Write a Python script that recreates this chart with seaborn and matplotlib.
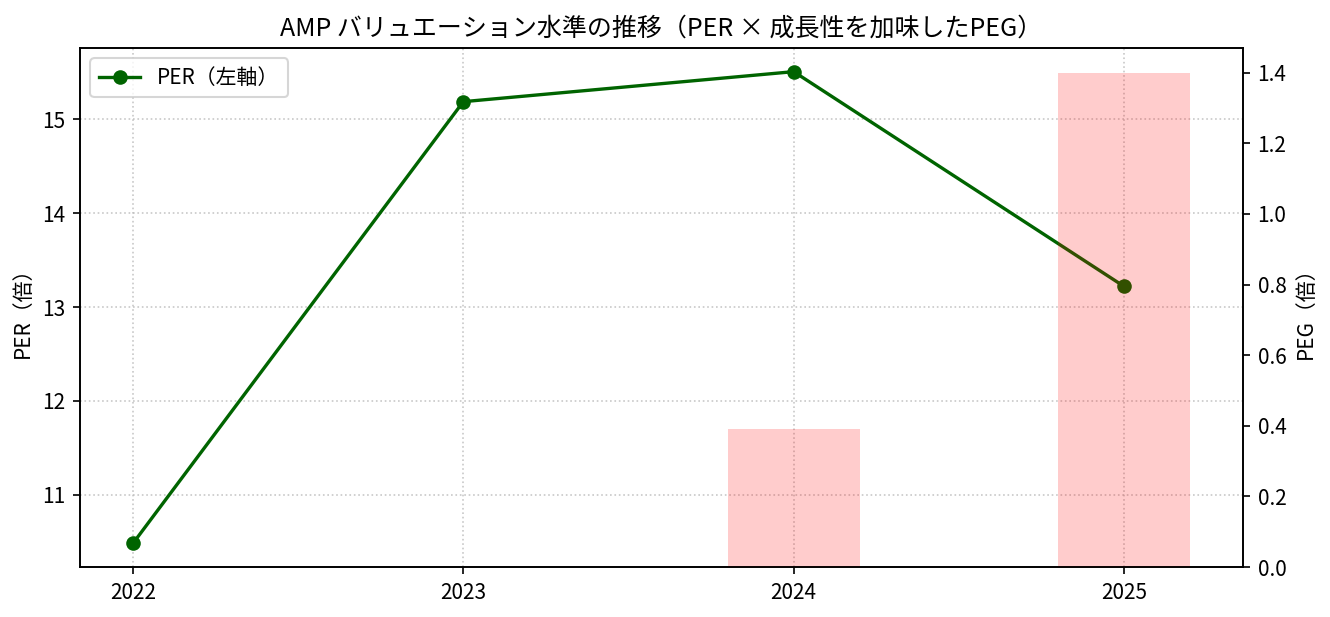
import numpy as np
import pandas as pd
import seaborn as sns
import matplotlib
matplotlib.use("Agg")
import matplotlib.pyplot as plt

plt.rcParams["font.family"] = ["Noto Sans CJK JP", "DejaVu Sans"]

# data
years = [2022, 2023, 2024, 2025]
per = [10.48, 15.19, 15.51, 13.22]
peg = [np.nan, np.nan, 0.39, 1.40]

df = pd.DataFrame({"year": years, "PER": per, "PEG": peg})

fig = plt.figure(figsize=(1330 / 150, 617 / 150), dpi=150)
ax = fig.add_axes([0.0602, 0.081, 0.8744, 0.8411])

sns.lineplot(data=df, x="year", y="PER", ax=ax, color="darkgreen",
             marker="o", markersize=7, markeredgewidth=0, linewidth=1.6,
             label="PER（左軸）")
ax.set_ylabel("PER（倍）")
ax.set_xlabel("")
ax.grid(True, linestyle=":", color="#bbbbbb", alpha=0.8)

ax2 = ax.twinx()
peg_df = df.dropna(subset=["PEG"])
ax2.bar(peg_df["year"], peg_df["PEG"], width=0.4, color="red", alpha=0.2)
ax2.set_ylabel("PEG（倍）")

ax.set_xticks(years)
ax.set_xticklabels([str(y) for y in years])
ax.legend(loc="upper left")
ax.set_title("AMP バリュエーション水準の推移（PER × 成長性を加味したPEG）", fontsize=12)

fig.savefig("out.png", dpi=150)
